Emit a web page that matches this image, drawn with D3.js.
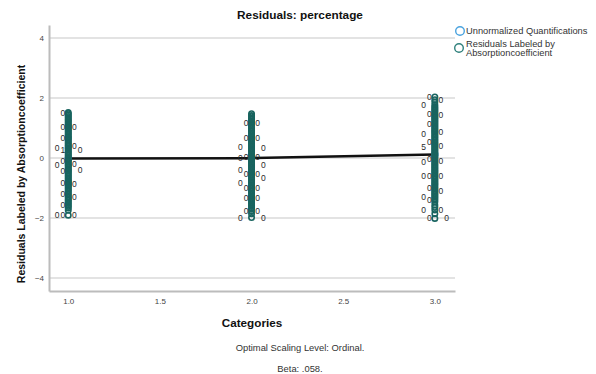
<!DOCTYPE html>
<html>
<head>
<meta charset="utf-8">
<script src="https://cdn.jsdelivr.net/npm/d3@7/dist/d3.min.js"></script>
<style>
  html, body { margin: 0; padding: 0; background: #fff; }
  svg { display: block; font-family: "Liberation Sans", Arial, sans-serif; }
</style>
</head>
<body>
<svg id="chart" width="596" height="374"></svg>
<script>
// Category values on the x axis
const categories = [1, 2, 3];

// Unnormalized quantification per category (drawn as the connecting line)
const quantifications = [-0.03, -0.02, 0.10];

// Residuals for each category
const residuals1 = [1.50, 1.46, 1.42, 1.37, 1.33, 1.28, 1.24, 1.19, 1.15, 1.10, 1.06, 1.03, 0.98, 0.94,
  0.89, 0.85, 0.80, 0.76, 0.71, 0.67, 0.64, 0.59, 0.55, 0.50, 0.46, 0.41, 0.38, 0.33, 0.30, 0.25,
  0.20, 0.16, 0.11, 0.07, 0.02, -0.03, -0.07, -0.12, -0.16, -0.22, -0.25, -0.29, -0.34, -0.38,
  -0.42, -0.45, -0.50, -0.54, -0.59, -0.63, -0.68, -0.72, -0.77, -0.81, -0.85, -0.87, -0.92,
  -0.96, -1.01, -1.05, -1.10, -1.14, -1.20, -1.24, -1.30, -1.34, -1.39, -1.43, -1.48, -1.53,
  -1.58, -1.63, -1.68, -1.76, -1.92];
const residuals2 = [1.46, 1.40, 1.36, 1.31, 1.27, 1.22, 1.18, 1.14, 1.09, 1.05, 1.00, 0.96, 0.91,
  0.87, 0.82, 0.78, 0.73, 0.69, 0.64, 0.60, 0.55, 0.51, 0.46, 0.42, 0.36, 0.31, 0.27, 0.22, 0.18,
  0.13, 0.08, 0.03, -0.01, -0.06, -0.10, -0.15, -0.20, -0.25, -0.29, -0.34, -0.38, -0.42, -0.47,
  -0.51, -0.56, -0.60, -0.65, -0.69, -0.74, -0.78, -0.83, -0.86, -0.91, -0.95, -1.00, -1.04,
  -1.09, -1.13, -1.18, -1.22, -1.27, -1.31, -1.36, -1.40, -1.45, -1.49, -1.54, -1.58, -1.63,
  -1.68, -1.72, -1.78, -1.87, -2.00];
const residuals3 = [2.02, 1.93, 1.85, 1.76, 1.70, 1.65, 1.61, 1.56, 1.52, 1.46, 1.42, 1.38, 1.33,
  1.29, 1.24, 1.20, 1.15, 1.11, 1.06, 1.02, 0.97, 0.93, 0.88, 0.85, 0.79, 0.75, 0.70, 0.66, 0.61,
  0.57, 0.52, 0.48, 0.44, 0.40, 0.35, 0.31, 0.26, 0.22, 0.17, 0.13, 0.08, 0.04, -0.01, -0.05,
  -0.10, -0.15, -0.19, -0.24, -0.28, -0.33, -0.37, -0.42, -0.46, -0.51, -0.55, -0.60, -0.64,
  -0.69, -0.73, -0.78, -0.82, -0.87, -0.91, -0.96, -1.01, -1.05, -1.10, -1.14, -1.19, -1.23,
  -1.28, -1.32, -1.37, -1.42, -1.48, -1.58, -1.66, -1.75, -1.87, -2.03];
const residuals = [residuals1, residuals2, residuals3];

// Point labels (Absorptioncoefficient value) attached to residuals
const labels1 = [[1.50, "0"], [1.03, "0"], [1.03, "0"], [0.64, "0"], [0.38, "0"], [0.33, "0"],
  [0.25, "1"], [0.25, "0"], [0.20, "0"], [-0.22, "0"], [-0.25, "0"], [-0.42, "0"], [-0.45, "0"],
  [-0.85, "0"], [-0.87, "0"], [-1.20, "0"], [-1.30, "0"], [-1.58, "0"], [-1.92, "0"],
  [-1.92, "0"], [-1.92, "0"]];
const labels2 = [[1.14, "0"], [1.14, "0"], [0.64, "0"], [0.64, "0"], [0.36, "0"], [0.31, "0"],
  [0.31, "0"], [0.03, "0"], [-0.01, "0"], [-0.25, "0"], [-0.25, "0"], [-0.25, "0"], [-0.42, "0"],
  [-0.69, "0"], [-0.86, "0"], [-1.00, "0"], [-1.00, "0"], [-1.36, "0"], [-1.36, "0"],
  [-1.78, "0"], [-1.78, "0"], [-2.00, "0"], [-2.00, "0"]];
const labels3 = [[2.02, "0"], [1.93, "0"], [1.76, "0"], [1.46, "0"], [1.42, "0"], [1.11, "0"],
  [0.85, "0"], [0.79, "0"], [0.52, "0"], [0.40, "0"], [0.35, "5"], [-0.05, "0"], [-0.10, "0"],
  [-0.15, "0"], [-0.60, "0"], [-0.60, "0"], [-0.60, "0"], [-1.01, "0"], [-1.10, "0"],
  [-1.32, "0"], [-1.42, "0"], [-1.75, "0"], [-1.75, "0"], [-2.03, "0"], [-2.03, "0"]];
const pointLabels = [labels1, labels2, labels3];

const yTicks = [-4, -2, 0, 2, 4];
const xTicks = [1.0, 1.5, 2.0, 2.5, 3.0];

const chartTitle = "Residuals: percentage";
const xTitle = "Categories";
const yTitle = "Residuals Labeled by Absorptioncoefficient";
const footnotes = ["Optimal Scaling Level: Ordinal.", "Beta: .058."];
const legendItems = ["Unnormalized Quantifications", ["Residuals Labeled by", "Absorptioncoefficient"]];

// ---- drawing ----
const svg = d3.select("#chart");
const plot = { left: 49, right: 455, top: 25, bottom: 291 };

const x = d3.scaleLinear().domain([0.895, 3.11]).range([plot.left, plot.right]);
const y = d3.scaleLinear().domain([-4.45, 4.42]).range([plot.bottom, plot.top]);

const quantColor = "#4aa3df";
const residColor = "#19645f";

// horizontal gridlines
svg.append("g")
  .attr("transform", `translate(${plot.left},0)`)
  .call(d3.axisLeft(y).tickValues(yTicks).tickSize(-(plot.right - plot.left)).tickFormat(""))
  .call(g => g.select(".domain").remove())
  .call(g => g.selectAll(".tick line").attr("stroke", "#dadada").attr("stroke-width", 1.5));

// y axis
svg.append("g")
  .attr("transform", `translate(${plot.left},0)`)
  .call(d3.axisLeft(y).tickValues(yTicks).tickSize(0).tickSizeOuter(0).tickPadding(5)
    .tickFormat(d3.format("d")))
  .call(g => g.select(".domain").attr("stroke", "#bcbcbc").attr("stroke-width", 2))
  .call(g => g.selectAll(".tick text").attr("font-size", 8).attr("fill", "#444")
    .attr("font-family", "Liberation Sans, Arial, sans-serif"));

// x axis
svg.append("g")
  .attr("transform", `translate(0,${plot.bottom})`)
  .call(d3.axisBottom(x).tickValues(xTicks).tickSize(0).tickSizeOuter(0).tickPadding(7)
    .tickFormat(d3.format(".1f")))
  .call(g => g.select(".domain").attr("stroke", "#bcbcbc").attr("stroke-width", 2))
  .call(g => g.selectAll(".tick text").attr("font-size", 8).attr("fill", "#444")
    .attr("font-family", "Liberation Sans, Arial, sans-serif"));

// quantification line
const quantPts = categories.map((c, i) => [c, quantifications[i]]);
svg.append("path")
  .datum(quantPts)
  .attr("fill", "none")
  .attr("stroke", "#111")
  .attr("stroke-width", 2.5)
  .attr("d", d3.line().x(d => x(d[0])).y(d => y(d[1])));

svg.append("g").selectAll("circle")
  .data(quantPts)
  .join("circle")
  .attr("cx", d => x(d[0])).attr("cy", d => y(d[1])).attr("r", 3)
  .attr("fill", "none").attr("stroke", quantColor).attr("stroke-width", 1.5);

// residual points
const residPts = [];
categories.forEach((c, i) => residuals[i].forEach(v => residPts.push([c, v])));
svg.append("g").selectAll("circle")
  .data(residPts)
  .join("circle")
  .attr("cx", d => x(d[0])).attr("cy", d => y(d[1])).attr("r", 2.7)
  .attr("fill", "none").attr("stroke", residColor).attr("stroke-width", 1.6);

// point labels: greedy placement around each point, avoiding overlapping boxes
const labelSize = 8.5;
const boxW = 5.6, boxH = 9.9;
const slots = [[-5.5, 0], [6, 0], [-11.2, 0], [11.8, 0], [0, 0],
  [-5.5, 9], [6, 9], [0, 9], [-17, 0], [17.5, 0]];
const labelLayer = svg.append("g")
  .attr("font-size", labelSize).attr("fill", "#2a2a2a")
  .attr("text-anchor", "middle").attr("dominant-baseline", "central");
categories.forEach((c, i) => {
  const placed = [];
  pointLabels[i].forEach(([v, t]) => {
    const px = x(c), py = y(v);
    let pos = null;
    for (const [dx, dy] of slots) {
      const lx = px + dx, ly = py + dy;
      if (!placed.some(p => Math.abs(p[0] - lx) < boxW && Math.abs(p[1] - ly) < boxH)) {
        pos = [lx, ly];
        break;
      }
    }
    if (!pos) pos = [px, py];
    placed.push(pos);
    labelLayer.append("text").attr("x", pos[0]).attr("y", pos[1]).text(t);
  });
});

// titles
svg.append("text")
  .attr("x", 300).attr("y", 19)
  .attr("text-anchor", "middle").attr("font-size", 11.8).attr("font-weight", "bold")
  .attr("fill", "#111").text(chartTitle);

svg.append("text")
  .attr("x", (plot.left + plot.right) / 2).attr("y", 327)
  .attr("text-anchor", "middle").attr("font-size", 11.7).attr("font-weight", "bold")
  .attr("fill", "#111").text(xTitle);

svg.append("text")
  .attr("transform", "translate(25,174) rotate(-90)")
  .attr("text-anchor", "middle").attr("font-size", 10.5).attr("font-weight", "bold")
  .attr("fill", "#111").text(yTitle);

footnotes.forEach((t, i) => {
  svg.append("text")
    .attr("x", 300).attr("y", 350.5 + i * 21)
    .attr("text-anchor", "middle").attr("font-size", 9.4)
    .attr("fill", "#333").text(t);
});

// legend
const legend = svg.append("g").attr("font-size", 9.3).attr("fill", "#333");
legend.append("circle").attr("cx", 460).attr("cy", 31).attr("r", 4.3)
  .attr("fill", "#fff").attr("stroke", quantColor).attr("stroke-width", 1.4);
legend.append("text").attr("x", 466).attr("y", 31).attr("dominant-baseline", "central")
  .text(legendItems[0]);
legend.append("circle").attr("cx", 459).attr("cy", 48).attr("r", 4.3)
  .attr("fill", "#fff").attr("stroke", "#2f807c").attr("stroke-width", 1.4);
legendItems[1].forEach((t, i) => {
  legend.append("text").attr("x", 466).attr("y", 43.5 + i * 9.5)
    .attr("dominant-baseline", "central").text(t);
});
</script>
</body>
</html>
